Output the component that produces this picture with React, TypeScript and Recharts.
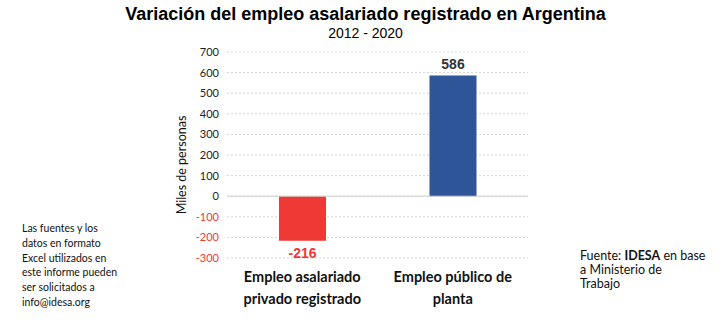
import React from "react";
import { BarChart, Bar, XAxis, YAxis, CartesianGrid, ReferenceLine, LabelList, Cell, Label } from "recharts";

const categories = ["Empleo asalariado privado registrado", "Empleo público de planta"];
const categoryLines = [
  ["Empleo asalariado", "privado registrado"],
  ["Empleo público de", "planta"],
];
const values = [-216, 586];
const yTicks = [-300, -200, -100, 0, 100, 200, 300, 400, 500, 600, 700];

const RED = "#EE3934";
const BLUE = "#2E5597";

const data = categories.map((name, i) => ({ name, value: values[i] }));

function CategoryTick({ x, y, index }: any) {
  const lines = categoryLines[index] ?? [];
  return (
    <text x={x} y={y} textAnchor="middle" fontFamily="Lato, sans-serif" fontWeight={700} fontSize={14.5} fill="#111">
      {lines.map((l, i) => (
        <tspan key={i} x={x} dy={i === 0 ? 16 : 22}>
          {l}
        </tspan>
      ))}
    </text>
  );
}

function ValueTick({ x, y, payload }: any) {
  const neg = payload.value < 0;
  return (
    <text x={x} y={y} dy={4} textAnchor="end" fontFamily="Lato, sans-serif" fontSize={11} fill={neg ? RED : "#222"}>
      {payload.value}
    </text>
  );
}

function AxisTitle({ viewBox }: any) {
  const x = viewBox.x + 4;
  const y = viewBox.y + viewBox.height / 2 + 10;
  return (
    <text
      x={x}
      y={y}
      transform={`rotate(-90 ${x} ${y})`}
      textAnchor="middle"
      dominantBaseline="central"
      fontFamily="Lato, sans-serif"
      fontSize={12.5}
      fill="#111"
    >
      Miles de personas
    </text>
  );
}

function BarValue({ x, y, width, height, value }: any) {
  const neg = value < 0;
  const cx = x + width / 2;
  const top = Math.min(y, y + height);
  const bottom = Math.max(y, y + height);
  return (
    <text
      x={cx}
      y={neg ? bottom + 17 : top - 6}
      textAnchor="middle"
      fontFamily="'Liberation Sans', Arial, sans-serif"
      fontWeight={700}
      fontSize={14}
      fill={neg ? RED : "#333"}
    >
      {value}
    </text>
  );
}

export default function App() {
  return (
    <div style={{ position: "absolute", left: 0, top: 0, width: 719, height: 321, background: "#fff" }}>
      <div
        style={{
          position: "absolute",
          left: 0,
          width: 719,
          top: 3,
          textAlign: "center",
          fontFamily: "'Liberation Sans', Arial, sans-serif",
          color: "#000",
        }}
      >
        <div style={{ fontSize: 18, fontWeight: 700, lineHeight: "22px", paddingLeft: 12 }}>
          Variación del empleo asalariado registrado en Argentina
        </div>
        <div style={{ fontSize: 14, lineHeight: "17px", paddingLeft: 12 }}>2012 - 2020</div>
      </div>

      <div style={{ position: "absolute", left: 0, top: 0 }}>
        <BarChart width={719} height={321} data={data} margin={{ top: 52, right: 191, bottom: 33, left: 177 }}>
          <CartesianGrid vertical={false} stroke="#d4d4d4" strokeDasharray="2 2" />
          <XAxis dataKey="name" axisLine={false} tickLine={false} tick={<CategoryTick />} interval={0} height={30} />
          <YAxis
            width={50}
            domain={[-300, 700]}
            ticks={yTicks}
            axisLine={false}
            tickLine={false}
            tick={<ValueTick />}
            interval={0}
          >
            <Label content={<AxisTitle />} />
          </YAxis>
          <ReferenceLine y={0} stroke="#d0d0d0" strokeWidth={1} />
          <Bar dataKey="value" barSize={47} isAnimationActive={false}>
            {data.map((d, i) => (
              <Cell key={i} fill={d.value < 0 ? RED : BLUE} />
            ))}
            <LabelList dataKey="value" content={<BarValue />} />
          </Bar>
        </BarChart>
      </div>

      <div
        style={{
          position: "absolute",
          left: 22,
          top: 221,
          fontFamily: "Lato, sans-serif",
          fontSize: 10.5,
          lineHeight: "14.8px",
          color: "#111",
        }}
      >
        Las fuentes y los
        <br />
        datos en formato
        <br />
        Excel utilizados en
        <br />
        este informe pueden
        <br />
        ser solicitados a
        <br />
        info@idesa.org
      </div>

      <div
        style={{
          position: "absolute",
          left: 580,
          top: 249,
          fontFamily: "Lato, sans-serif",
          fontSize: 12.5,
          lineHeight: "14px",
          color: "#111",
        }}
      >
        Fuente: <b>IDESA</b> en base
        <br />a Ministerio de
        <br />
        Trabajo
      </div>
    </div>
  );
}
